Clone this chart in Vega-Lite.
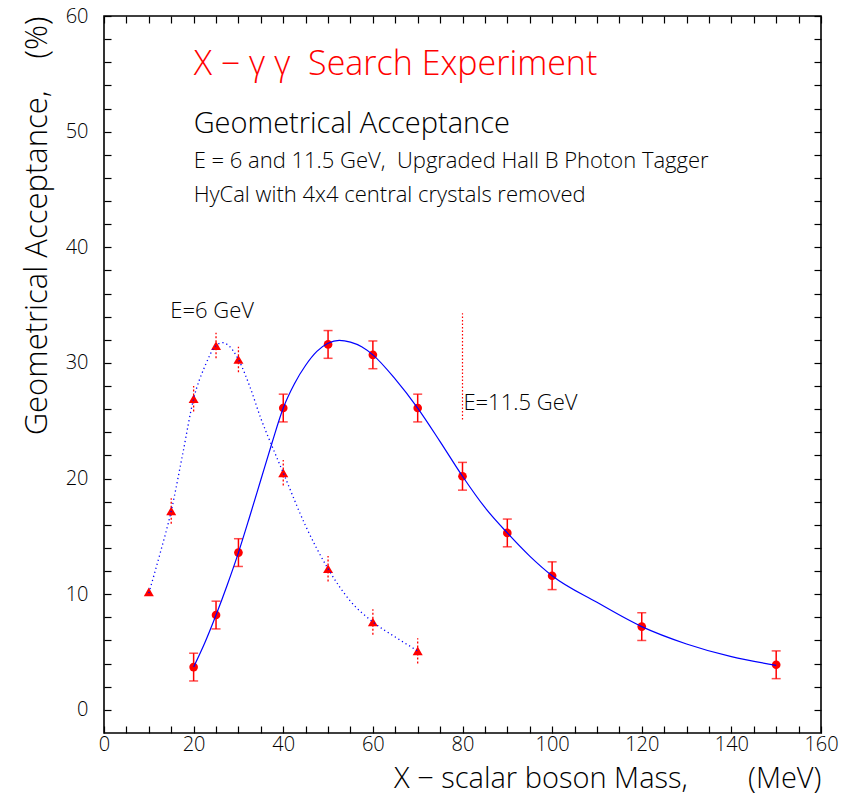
{
  "$schema": "https://vega.github.io/schema/vega-lite/v6.json",
  "width": 717,
  "height": 717,
  "autosize": "none",
  "padding": {"left": 104, "top": 16, "right": 32, "bottom": 64},
  "background": "white",
  "config": {
    "view": {"stroke": "black", "strokeWidth": 1.6},
    "font": "Open Sans",
    "axis": {
      "grid": false,
      "domain": false,
      "ticks": true,
      "tickSize": -7,
      "tickColor": "black",
      "tickWidth": 1.2,
      "labelFont": "Open Sans",
      "labelFontWeight": 300,
      "labelColor": "black",
      "labelFontSize": 20,
      "labelFlush": false,
      "labelOverlap": false,
      "titleFont": "Open Sans",
      "titleFontWeight": 300,
      "titleColor": "black",
      "titleFontSize": 31
    }
  },
  "datasets": {
    "e115": [
      {"m": 20, "acc": 3.7, "lo": 2.5, "hi": 4.9},
      {"m": 25, "acc": 8.2, "lo": 7.0, "hi": 9.4},
      {"m": 30, "acc": 13.6, "lo": 12.4, "hi": 14.8},
      {"m": 40, "acc": 26.1, "lo": 24.9, "hi": 27.3},
      {"m": 50, "acc": 31.6, "lo": 30.4, "hi": 32.8},
      {"m": 60, "acc": 30.7, "lo": 29.5, "hi": 31.9},
      {"m": 70, "acc": 26.1, "lo": 24.9, "hi": 27.3},
      {"m": 80, "acc": 20.2, "lo": 19.0, "hi": 21.4},
      {"m": 90, "acc": 15.3, "lo": 14.1, "hi": 16.5},
      {"m": 100, "acc": 11.6, "lo": 10.4, "hi": 12.8},
      {"m": 120, "acc": 7.2, "lo": 6.0, "hi": 8.4},
      {"m": 150, "acc": 3.9, "lo": 2.7, "hi": 5.1}
    ],
    "e6": [
      {"m": 10, "acc": 10.2, "lo": 10.2, "hi": 10.2},
      {"m": 15, "acc": 17.2, "lo": 16.1, "hi": 18.3},
      {"m": 20, "acc": 26.9, "lo": 25.8, "hi": 28.0},
      {"m": 25, "acc": 31.5, "lo": 30.4, "hi": 32.6},
      {"m": 30, "acc": 30.3, "lo": 29.2, "hi": 31.4},
      {"m": 40, "acc": 20.5, "lo": 19.4, "hi": 21.6},
      {"m": 50, "acc": 12.2, "lo": 11.1, "hi": 13.3},
      {"m": 60, "acc": 7.6, "lo": 6.5, "hi": 8.7},
      {"m": 70, "acc": 5.1, "lo": 4.0, "hi": 6.2}
    ],
    "fit115": [
      {"m": 20, "acc": 3.7}, {"m": 22.5, "acc": 5.8}, {"m": 25, "acc": 8.2},
      {"m": 27.5, "acc": 10.8}, {"m": 30, "acc": 13.6}, {"m": 32.5, "acc": 16.7},
      {"m": 35, "acc": 19.9}, {"m": 37.5, "acc": 23.1}, {"m": 40, "acc": 26.1},
      {"m": 42.5, "acc": 28.2}, {"m": 45, "acc": 29.8}, {"m": 47.5, "acc": 31.0},
      {"m": 50, "acc": 31.7}, {"m": 52.5, "acc": 31.95}, {"m": 55, "acc": 31.8},
      {"m": 57.5, "acc": 31.4}, {"m": 60, "acc": 30.7}, {"m": 65, "acc": 28.6},
      {"m": 70, "acc": 26.1}, {"m": 75, "acc": 23.2}, {"m": 80, "acc": 20.2},
      {"m": 85, "acc": 17.5}, {"m": 90, "acc": 15.3}, {"m": 95, "acc": 13.3},
      {"m": 100, "acc": 11.6}, {"m": 110, "acc": 9.3}, {"m": 120, "acc": 7.2},
      {"m": 130, "acc": 5.7}, {"m": 140, "acc": 4.6}, {"m": 150, "acc": 3.85}
    ],
    "fit6": [
      {"m": 10, "acc": 10.1}, {"m": 12.5, "acc": 13.5}, {"m": 15, "acc": 17.2},
      {"m": 17.5, "acc": 22.0}, {"m": 20, "acc": 26.9}, {"m": 22.5, "acc": 29.7},
      {"m": 25, "acc": 31.5}, {"m": 26.5, "acc": 31.75}, {"m": 27.5, "acc": 31.6},
      {"m": 30, "acc": 30.3}, {"m": 32.5, "acc": 28.0}, {"m": 35, "acc": 25.2},
      {"m": 37.5, "acc": 22.8}, {"m": 40, "acc": 20.5}, {"m": 45, "acc": 15.9},
      {"m": 50, "acc": 12.2}, {"m": 55, "acc": 9.4}, {"m": 60, "acc": 7.6},
      {"m": 65, "acc": 6.3}, {"m": 70, "acc": 5.1}
    ]
  },
  "resolve": {"axis": {"x": "independent", "y": "independent"}},
  "layer": [
    {
      "data": {"name": "e115"},
      "mark": {"type": "rule", "color": "#ff0000", "strokeWidth": 1.5},
      "encoding": {
        "x": {
          "field": "m", "type": "quantitative",
          "scale": {"domain": [0, 160], "nice": false, "zero": false},
          "axis": {
            "orient": "bottom",
            "values": [0, 5, 10, 15, 20, 25, 30, 35, 40, 45, 50, 55, 60, 65, 70, 75, 80, 85, 90, 95, 100, 105, 110, 115, 120, 125, 130, 135, 140, 145, 150, 155, 160],
            "labelExpr": "datum.value % 20 === 0 ? datum.label : ''",
            "labelPadding": 8,
            "encode": {"ticks": {"update": {"y2": {"signal": "datum.value % 20 === 0 ? -13 : -7"}}}},
            "title": "X − scalar boson Mass,\u00a0\u00a0\u00a0\u00a0\u00a0\u00a0\u00a0\u00a0(MeV)",
            "titleAnchor": "end",
            "titleFontSize": 29,
            "titlePadding": 10
          }
        },
        "y": {
          "field": "lo", "type": "quantitative",
          "scale": {"domain": [-2, 60], "nice": false, "zero": false},
          "axis": {
            "orient": "left",
            "values": [0, 2, 4, 6, 8, 10, 12, 14, 16, 18, 20, 22, 24, 26, 28, 30, 32, 34, 36, 38, 40, 42, 44, 46, 48, 50, 52, 54, 56, 58, 60],
            "labelExpr": "datum.value % 10 === 0 ? datum.label : ''",
            "labelPadding": 23,
            "encode": {"ticks": {"update": {"x2": {"signal": "datum.value % 10 === 0 ? 13 : 7"}}}},
            "title": "Geometrical Acceptance,\u00a0\u00a0\u00a0\u00a0(%)",
            "titleAnchor": "end",
            "titlePadding": 12
          }
        },
        "y2": {"field": "hi"}
      }
    },
    {
      "data": {"name": "e115"},
      "mark": {"type": "tick", "orient": "horizontal", "color": "#ff0000", "size": 9, "thickness": 1.5},
      "encoding": {
        "x": {
          "field": "m", "type": "quantitative",
          "axis": {
            "orient": "top",
            "values": [0, 5, 10, 15, 20, 25, 30, 35, 40, 45, 50, 55, 60, 65, 70, 75, 80, 85, 90, 95, 100, 105, 110, 115, 120, 125, 130, 135, 140, 145, 150, 155, 160],
            "labels": false,
            "title": null,
            "encode": {"ticks": {"update": {"y2": {"signal": "datum.value % 20 === 0 ? 13 : 7"}}}}
          }
        },
        "y": {
          "field": "lo", "type": "quantitative",
          "axis": {
            "orient": "right",
            "values": [0, 2, 4, 6, 8, 10, 12, 14, 16, 18, 20, 22, 24, 26, 28, 30, 32, 34, 36, 38, 40, 42, 44, 46, 48, 50, 52, 54, 56, 58, 60],
            "labels": false,
            "title": null,
            "encode": {"ticks": {"update": {"x2": {"signal": "datum.value % 10 === 0 ? -13 : -7"}}}}
          }
        }
      }
    },
    {
      "data": {"name": "e115"},
      "mark": {"type": "tick", "orient": "horizontal", "color": "#ff0000", "size": 9, "thickness": 1.5},
      "encoding": {
        "x": {"field": "m", "type": "quantitative", "axis": null},
        "y": {"field": "hi", "type": "quantitative", "axis": null}
      }
    },
    {
      "data": {"name": "e6"},
      "mark": {"type": "rule", "color": "#ff0000", "strokeWidth": 1.3, "strokeDash": [2, 2]},
      "encoding": {
        "x": {"field": "m", "type": "quantitative", "axis": null},
        "y": {"field": "lo", "type": "quantitative", "axis": null},
        "y2": {"field": "hi"}
      }
    },
    {
      "data": {"values": [{"m": 80, "lo": 25.1, "hi": 34.3}]},
      "mark": {"type": "rule", "color": "#ff0000", "strokeWidth": 1.2, "strokeDash": [1.5, 2]},
      "encoding": {
        "x": {"field": "m", "type": "quantitative", "axis": null},
        "y": {"field": "lo", "type": "quantitative", "axis": null},
        "y2": {"field": "hi"}
      }
    },
    {
      "data": {"name": "e115"},
      "mark": {"type": "point", "shape": "circle", "filled": true, "color": "#ff0000", "size": 75, "opacity": 1},
      "encoding": {
        "x": {"field": "m", "type": "quantitative", "axis": null},
        "y": {"field": "acc", "type": "quantitative", "axis": null}
      }
    },
    {
      "data": {"name": "e6"},
      "mark": {"type": "point", "shape": "triangle-up", "filled": true, "color": "#ff0000", "size": 100, "opacity": 1},
      "encoding": {
        "x": {"field": "m", "type": "quantitative", "axis": null},
        "y": {"field": "acc", "type": "quantitative", "axis": null}
      }
    },
    {
      "data": {"name": "fit115"},
      "mark": {"type": "line", "color": "#0000ff", "strokeWidth": 1.2, "interpolate": "monotone"},
      "encoding": {
        "x": {"field": "m", "type": "quantitative", "axis": null},
        "y": {"field": "acc", "type": "quantitative", "axis": null}
      }
    },
    {
      "data": {"name": "fit6"},
      "mark": {"type": "line", "color": "#0000ff", "strokeWidth": 1.3, "strokeDash": [1.2, 3], "interpolate": "monotone"},
      "encoding": {
        "x": {"field": "m", "type": "quantitative", "axis": null},
        "y": {"field": "acc", "type": "quantitative", "axis": null}
      }
    },
    {
      "data": {"values": [{"m": 20, "acc": 54.9, "text": "X − γ γ\u00a0\u00a0Search Experiment"}]},
      "mark": {"type": "text", "align": "left", "baseline": "alphabetic", "color": "#ff0000", "fontSize": 34, "fontWeight": 300, "font": "Open Sans"},
      "encoding": {
        "x": {"field": "m", "type": "quantitative", "axis": null},
        "y": {"field": "acc", "type": "quantitative", "axis": null},
        "text": {"field": "text"}
      }
    },
    {
      "data": {"values": [{"m": 20, "acc": 49.9, "text": "Geometrical Acceptance"}]},
      "mark": {"type": "text", "align": "left", "baseline": "alphabetic", "color": "black", "fontSize": 29, "fontWeight": 300, "font": "Open Sans"},
      "encoding": {
        "x": {"field": "m", "type": "quantitative", "axis": null},
        "y": {"field": "acc", "type": "quantitative", "axis": null},
        "text": {"field": "text"}
      }
    },
    {
      "data": {"values": [
        {"m": 20, "acc": 46.85, "text": "E = 6 and 11.5 GeV,\u00a0\u00a0Upgraded Hall B Photon Tagger"},
        {"m": 20, "acc": 43.9, "text": "HyCal with 4x4 central crystals removed"},
        {"m": 14.8, "acc": 33.9, "text": "E=6 GeV"},
        {"m": 80.2, "acc": 25.9, "text": "E=11.5 GeV"}
      ]},
      "mark": {"type": "text", "align": "left", "baseline": "alphabetic", "color": "black", "fontSize": 22, "fontWeight": 300, "font": "Open Sans"},
      "encoding": {
        "x": {"field": "m", "type": "quantitative", "axis": null},
        "y": {"field": "acc", "type": "quantitative", "axis": null},
        "text": {"field": "text"}
      }
    }
  ]
}
